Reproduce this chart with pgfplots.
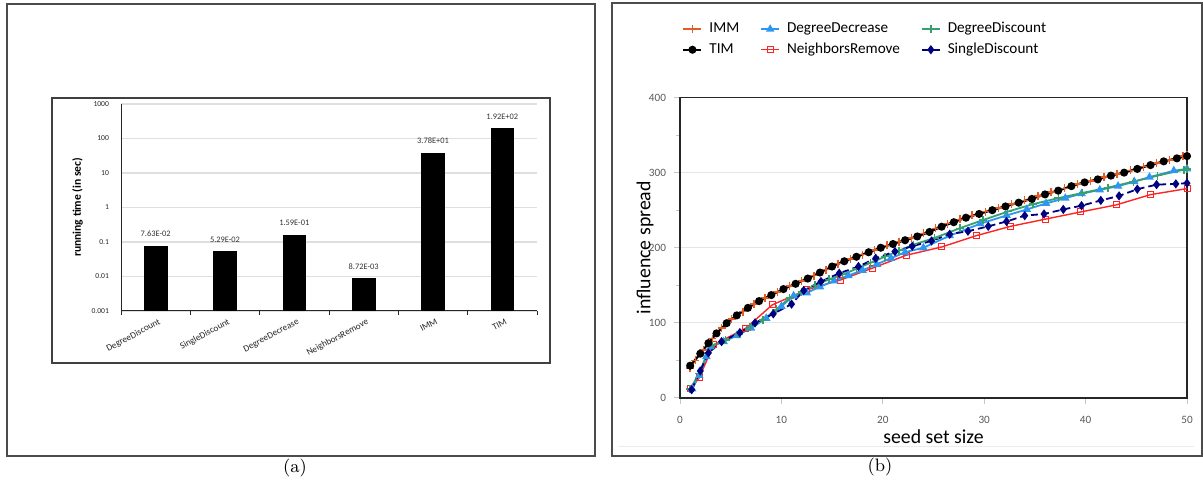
\documentclass[border=0pt]{standalone}
\usepackage{fontspec}
\usepackage{pgfplots}
\pgfplotsset{compat=1.18}
\newfontfamily\calib{Carlito}
\definecolor{immc}{RGB}{226,92,40}
\definecolor{ddec}{RGB}{45,150,240}
\definecolor{ddis}{RGB}{55,160,110}
\definecolor{nrc}{RGB}{255,35,35}
\definecolor{sdc}{RGB}{0,0,128}
\pgfplotsset{
  immS/.style={color=immc, line width=0.9pt, mark=+, mark size=2pt, mark options={solid,line width=0.7pt}},
  ddecS/.style={color=ddec, line width=0.9pt, mark=triangle*, mark size=1.6pt, mark options={solid}},
  ddisS/.style={color=ddis, line width=0.9pt, mark=+, mark size=2pt, mark options={solid,line width=0.7pt}},
  timS/.style={color=black, line width=1pt, mark=*, mark size=1.5pt, mark options={solid}},
  nrS/.style={color=nrc, line width=0.7pt, mark=square, mark size=1.5pt, mark options={solid, fill=white, line width=0.5pt}},
  sdS/.style={color=sdc, line width=0.9pt, dash pattern=on 3.5pt off 2pt, mark=diamond*, mark size=1.6pt, mark options={solid}},
}
\begin{document}
\begin{tikzpicture}
\path[use as bounding box] (0,0) rectangle (601.5pt,243pt);
% panel frames
\draw[black!70, line width=0.7pt] (3.5pt,15pt) rectangle (297.5pt,241pt);
\draw[black!70, line width=0.7pt] (306pt,15pt) rectangle (601pt,241.5pt);
\draw[black!75, line width=0.6pt] (26pt,61.5pt) rectangle (275pt,194pt);
\draw[black!8, line width=0.5pt] (309pt,19.5pt) -- (597pt,19.5pt);
\node[font=\fontsize{9}{11}\selectfont] at (147.5pt,9pt) {(a)};
\node[font=\fontsize{9}{11}\selectfont] at (440pt,9.5pt) {(b)};

% ---------------- panel (a)
\begin{axis}[at={(60.5pt,87.5pt)}, anchor=south west, scale only axis,
  width=208pt, height=103.5pt,
  ymode=log, ymin=0.001, ymax=1000, log origin=infty,
  xmin=-0.5, xmax=5.5, ybar, bar width=11.25pt,
  xtick={0,...,5},
  xticklabels={DegreeDiscount,SingleDiscount,DegreeDecrease,NeighborsRemove,IMM,TIM},
  ytick={0.001,0.01,0.1,1,10,100,1000},
  yticklabels={0.001,0.01,0.1,1,10,100,1000},
  yminorticks=false,
  axis x line*=bottom, axis y line*=left,
  axis line style={black!85, line width=0.5pt, -},
  ymajorgrids, major grid style={gray!25, line width=0.6pt},
  major tick length=0pt,
  extra x ticks={-0.5,0.5,1.5,2.5,3.5,4.5,5.5}, extra x tick labels={},
  extra x tick style={major tick length=2pt, tick align=outside, grid=none, tick style={black!85, line width=0.5pt}},
  ticklabel style={font=\calib\fontsize{3.8}{4.5}\selectfont, color=black!85},
  yticklabel style={xshift=-2.5pt},
  xticklabel style={rotate=28, anchor=north east, inner sep=0.5pt, yshift=-3pt, xshift=0pt, font=\calib\fontsize{4.6}{5.5}\selectfont},
  ylabel={\textbf{running time (in sec)}},
  every axis y label/.style={at={(axis description cs:0,0.5)}, rotate=90, anchor=center, yshift=21.75pt, font=\calib\fontsize{5.8}{6.5}\selectfont},
]
\addplot[fill=black, draw=black, nodes near coords, point meta=explicit symbolic,
  every node near coord/.append style={font=\calib\fontsize{4.2}{5}\selectfont, color=black!80, yshift=1.2pt}]
  coordinates {(0,0.0763)[7.63E-02] (1,0.0529)[5.29E-02] (2,0.159)[1.59E-01]
               (3,0.00872)[8.72E-03] (4,37.8)[3.78E+01] (5,192)[1.92E+02]};
\end{axis}

% ---------------- panel (b)
\begin{axis}[at={(340pt,44pt)}, anchor=south west, scale only axis,
  width=253.5pt, height=150.25pt,
  xmin=0, xmax=50, ymin=0, ymax=400,
  xtick={0,10,...,50}, ytick={0,100,...,400},
  minor ytick={50,150,250,350},
  xtick pos=left, ytick pos=left,
  ymajorgrids, major grid style={gray!20, line width=0.6pt},
  axis line style={black!85, line width=0.8pt},
  tick style={gray!45, line width=0.5pt},
  major tick length=3pt, minor tick length=2pt, tick align=outside,
  /pgf/number format/assume math mode=true,
  ticklabel style={font=\calib\fontsize{5.6}{6.5}\selectfont, color=black!65},
  xticklabel style={yshift=-2.5pt},
  yticklabel style={xshift=-0.5pt},
  xlabel={seed set size}, ylabel={influence spread},
  every axis x label/.style={at={(axis description cs:0.5,0)}, anchor=center, yshift=-19.5pt, font=\calib\fontsize{9.9}{11}\selectfont},
  every axis y label/.style={at={(axis description cs:0,0.5)}, rotate=90, anchor=center, yshift=17.5pt, font=\calib\fontsize{9.9}{11}\selectfont},
  legend columns=3,
  legend cell align=left,
  legend style={draw=none, fill=none, inner sep=0pt, at={(axis description cs:0.004,1.193)}, anchor=west,
     font=\calib\fontsize{7.6}{8.5}\selectfont, row sep=1.5pt,
     /tikz/every odd column/.append style={column sep=2.5pt},
     /tikz/every even column/.append style={column sep=9.5pt},
     nodes={inner sep=1pt}},
  legend image code/.code={\draw[mark repeat=2, mark phase=2, #1] plot coordinates {(0pt,0pt) (4.5pt,0pt) (9pt,0pt)};},
]
\addlegendimage{immS}
\addlegendimage{ddecS}
\addlegendimage{ddisS}
\addlegendimage{timS}
\addlegendimage{nrS}
\addlegendimage{sdS}
\legend{IMM,DegreeDecrease,DegreeDiscount,TIM,NeighborsRemove,SingleDiscount}

% NeighborsRemove
\addplot[nrS] coordinates {(1,12) (1.9,27) (3.3,70.7) (6.5,93) (9.1,124) (12.5,144) (15.8,157) (19,173) (22.3,190) (25.8,201) (29.2,216) (32.6,228.5) (36,238) (39.5,247.6) (43,257) (46.4,270.7) (50,278.7)};
% DegreeDecrease
\addplot[ddecS] coordinates {(1.2,12) (1.9,30) (2.6,55) (3,68) (4.3,75) (5.6,83) (7,93) (8.5,106) (10,122) (11.2,136) (12.5,140) (13.8,148) (15.2,156) (16.6,163) (18,170) (19.4,178) (20.8,186) (22.2,194) (24,200) (26.6,216) (29.6,232) (32.2,243) (34.2,251) (36.1,259) (38,266) (39.6,272) (41.4,277) (43.2,282) (44.8,288) (46.3,294) (48.7,302.5) (50,305)};
% DegreeDiscount
\addplot[ddisS] coordinates {(1,12) (1.9,33) (2.7,60) (3.2,70) (4.5,77) (5.8,85) (6.9,95) (8.2,104) (9.5,118) (10.8,133) (12,141) (13.3,150) (14.7,158) (16,164) (17.4,172) (18.8,180) (20.2,188) (21.6,196) (23,204) (25.1,213) (27.6,226) (29.9,237) (32.3,248) (34.8,258) (37.3,266) (39.7,273) (42.2,280) (44.7,288) (47.1,296) (49.7,304) (50,305)};
% SingleDiscount
\addplot[sdS] coordinates {(1.15,11) (2,36) (2.8,60) (4.1,75) (5.9,87) (7.4,100) (9.2,112) (11,125) (12.2,143) (13.9,155) (15.7,166) (17.6,175) (19.3,186) (21.2,195) (22.9,202) (24.8,209) (26.6,218) (28.4,222) (30.4,228.5) (32.2,235) (34,242.7) (35.9,245) (37.8,251) (39.6,256) (41.5,263) (43.3,269) (45.1,278) (47,284) (48.9,285) (50,286)};
% IMM
\addplot[immS] coordinates {(1,40) (1.5,50) (2.3,64) (3.2,79) (4.1,93) (5.1,105) (6.2,115) (7.3,125) (8.4,133) (9.6,141) (10.8,149) (12,156) (13.2,163) (14.4,171) (15.6,179) (16.8,185) (18,191) (19.2,197) (20.4,203) (21.6,208) (22.8,213) (24,219) (25.2,226) (26.4,232) (27.6,238) (28.8,243) (30.1,248) (31.4,253) (32.7,258) (34,263) (35.3,269) (36.6,274) (37.9,279) (39.2,285) (40.5,289) (41.8,294) (43.1,298) (44.4,303) (45.7,308) (47,313) (48.3,317) (49.6,322) (50,323)};
% TIM
\addplot[timS] coordinates {(1,43) (2,59) (2.8,73) (3.6,86) (4.6,99.6) (5.6,110) (6.7,120) (7.8,129) (9,137) (10.2,145) (11.4,152) (12.6,159) (13.8,167) (15,175) (16.2,182) (17.4,188) (18.6,194) (19.8,200) (21,205) (22.2,210) (23.4,215) (24.6,221) (25.8,228) (27,234) (28.2,240) (29.5,245) (30.8,250) (32.1,255) (33.4,260) (34.7,265) (36,271) (37.3,276) (38.6,282) (39.9,287) (41.2,291) (42.5,296) (43.8,300) (45.1,305) (46.4,310) (47.7,315) (49,319) (50,322)};
\end{axis}
\end{tikzpicture}
\end{document}
